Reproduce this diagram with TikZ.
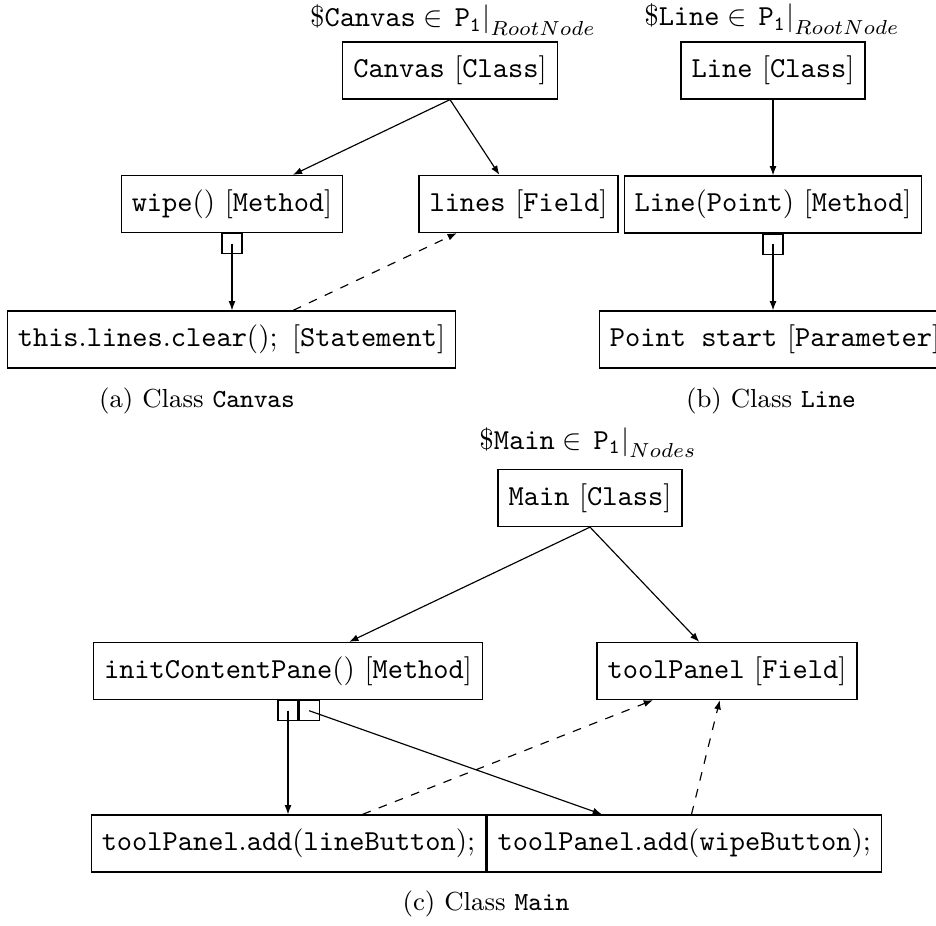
\documentclass[tikz,border=0pt]{standalone}
\usetikzlibrary{arrows.meta}
\begin{document}
\begin{tikzpicture}[x=0.345pt,y=-0.345pt,
  elem/.style={draw, line width=0.4pt, inner xsep=3.65pt, inner ysep=4.85pt, text height=7.5pt, text depth=2.5pt},
  port/.style={draw, line width=0.4pt, minimum width=6.9pt, minimum height=6.9pt, inner sep=0pt},
  edge/.style={line width=0.4pt, -{Latex[length=3.2pt,width=2.4pt]}},
  ref/.style={edge, dashed},
  lbl/.style={anchor=base, inner sep=0pt},
  captxt/.style={anchor=base, inner sep=0pt, font=\small}]
\useasboundingbox (0,0) rectangle (936,925);

% ---------- (a) Class Canvas ----------
\node[lbl] (lblA) at (453,27) {$\$\mathtt{Canvas} \in \left.\mathtt{P}_{\mathtt{1}}\right|_{RootNode}$};
\node[elem] (canvas) at (450,70.5) {\texttt{Canvas} [\texttt{Class}]};
\node[elem] (wipe) at (232,204) {\texttt{wipe}() [\texttt{Method}]};
\node[elem] (lines) at (518.5,204) {\texttt{lines} [\texttt{Field}]};
\node[port, anchor=north] (sqA) at (wipe.south) {};
\node[elem] (stmt) at (231.5,339.5) {\texttt{this}.\texttt{lines}.\texttt{clear}();\hspace{5pt}[\texttt{Statement}]};
\node[captxt] (capA) at (197,407) {(a) Class \texttt{Canvas}};
\draw[edge] (canvas.south) -- (wipe);
\draw[edge] (canvas.south) -- (lines);
\draw[edge] (sqA.center) -- (sqA.center |- stmt.north);
\draw[ref] (stmt) -- (lines);

% ---------- (b) Class Line ----------
\node[lbl] (lblB) at (772,26) {$\$\mathtt{Line} \in \left.\mathtt{P}_{\mathtt{1}}\right|_{RootNode}$};
\node[elem] (lineclass) at (773,70.5) {\texttt{Line} [\texttt{Class}]};
\node[elem] (linem) at (773,204.5) {\texttt{Line}(\texttt{Point}) [\texttt{Method}]};
\node[port, anchor=north] (sqB) at (linem.south) {};
\node[elem] (param) at (775,339.5) {\texttt{Point start} [\texttt{Parameter}]};
\node[captxt] (capB) at (771,407) {(b) Class \texttt{Line}};
\draw[edge] (lineclass) -- (linem);
\draw[edge] (sqB.center) -- (sqB.center |- param.north);

% ---------- (c) Class Main ----------
\node[lbl] (lblC) at (588,449) {$\$\mathtt{Main} \in \left.\mathtt{P}_{\mathtt{1}}\right|_{Nodes}$};
\node[elem] (main) at (590,498) {\texttt{Main} [\texttt{Class}]};
\node[elem] (init) at (288,671) {\texttt{initContentPane}() [\texttt{Method}]};
\node[elem] (tp) at (727,671) {\texttt{toolPanel} [\texttt{Field}]};
\node[port, anchor=north] (sqC1) at (init.south) {};
\node[port, anchor=north west] (sqC2) at (sqC1.north east) {};
\node[elem] (s1) at (288.5,843.5) {\texttt{toolPanel}.\texttt{add}(\texttt{lineButton});};
\node[elem, anchor=west] (s2) at (s1.east) {\texttt{toolPanel}.\texttt{add}(\texttt{wipeButton});};
\node[captxt] (capC) at (486,910) {(c) Class \texttt{Main}};
\draw[edge] (main.south) -- (init);
\draw[edge] (main.south) -- (tp);
\draw[edge] (sqC1.center) -- (sqC1.center |- s1.north);
\draw[edge] (sqC2.center) -- (s2);
\draw[ref] (s1) -- (tp);
\draw[ref] (s2) -- (tp);
\end{tikzpicture}
\end{document}
